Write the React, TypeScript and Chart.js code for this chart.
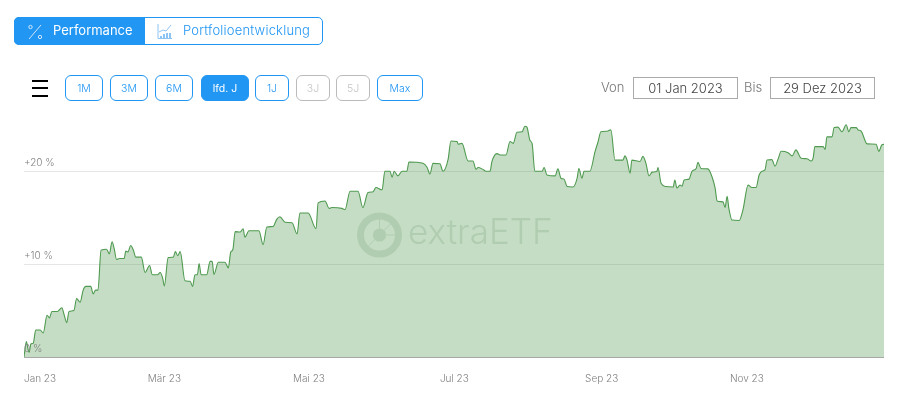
import React, { useEffect, useRef } from "react";
import { Chart, registerables } from "chart.js";

Chart.register(...registerables);

const sessions = [
  0, 0.7, 1.1, 1.5, 2.0, 2.7, 3.4, 4.7, 5.6, 6.7, 7.4, 8.1, 9.7, 11.0, 11.7, 12.4, 13.1, 14.5, 15.3, 16.3, 17.2, 18.0, 19.4, 20.1, 20.8, 21.5, 22.4, 24.0, 24.8, 25.6, 26.2, 26.9, 27.7, 29.1, 29.6, 30.2, 31.0, 31.8, 32.5, 34.1, 35.2, 36.5, 37.3, 38.8, 39.6, 40.3, 40.8, 41.9, 43.4, 44.0, 44.7, 45.4, 46.8, 48.3, 49.0, 49.7, 50.4, 50.9, 51.5, 53.1, 54.1, 54.7, 55.2, 56.5, 58.4, 59.4, 60.1, 60.7, 61.4,
  62.8, 63.7, 64.2, 65.4, 68.3, 69.5, 70.6, 72.4, 73.5, 74.4, 75.9, 77.9, 79.4, 80.2, 82.6, 84.9, 85.5, 87.5, 88.7, 89.5, 92.4, 93.3, 94.8, 97.1, 98.5, 100, 101.5, 102.3, 104.1, 104.9, 106.4, 107, 107.6, 108.7, 109.9, 111.3, 111.9, 116, 117.2, 118, 118.9, 120.9, 121.8, 123.3, 124.1, 125.9, 126.2, 127.3, 129.1, 130.5, 131.4, 132, 133.4, 134.3, 135.5, 136, 137.5, 138.4, 140.1, 141.3, 142.2, 143.3, 144.8, 145.6, 146.2, 147.1, 147.7, 148.5, 150.6, 151.2, 152, 154.4, 155.2, 156.1, 157, 157.9, 159.6, 160.8, 161.3, 162.2, 162.8, 164.5, 166, 166.9, 167.7, 169.5, 170.6, 171.8, 174.1, 174.7, 175.3, 176.2, 176.7, 179.1, 179.9, 180.8, 181.7, 182.6, 184, 184.3, 185.2, 186.6, 188.7, 189.2, 189.8, 190.7, 191.3, 191.9, 193.3, 194.2, 195.4, 195.9, 196.8, 198.8, 200, 200.9, 201.5, 203.2, 203.8, 204.4, 204.9, 205.8, 207.9, 209, 210.5, 211.6, 212.8, 213.7, 214.5, 215.4, 216, 217.4, 218.3, 219.2, 220.1, 222.1, 223.3, 224.4, 225.9, 227.6, 228.8, 229.4, 229.9, 232.3, 232.9, 233.4, 234.9, 235.5, 236.6, 237.8, 239, 239.8, 240.4, 241.9, 242.5, 243.3, 245.1, 247.7, 248.5, 249.4, 250,
];

const performance = [
  0, 1.65, 0.95, 0.5, 1.4, 1.5, 2.9, 2.9, 2.6, 4.5, 4.2, 4.9, 4.9, 5.3, 4.5, 3.7, 4.9, 5, 6.3, 5.9, 7.2, 7.6, 7.6, 6.8, 7.2, 7.2, 11.5, 11.6, 11.1, 12.4, 11.7, 10.5, 10.6, 10.6, 11.4, 11.3, 12, 11.5, 10.75, 10.75, 9.1, 9.85, 8.85, 8.85, 9.1, 8.5, 7.65, 10.7, 10.75, 11.35, 10.9, 11.35, 8.2, 8.15, 7.6, 8.85, 8.85, 10.05, 8.85, 8.85, 10.3, 10.3, 8.9, 10.2, 10.2, 9.6, 11.3, 11.55, 13.5,
  13.45, 13.8, 12.9, 13.6, 13.6, 12.1, 14, 14.05, 14.85, 15.1, 14.5, 14.45, 13.25, 15.5, 15.5, 13.8, 16.6, 16.8, 16, 16.1, 16, 15.85, 17.85, 17.85, 16.1, 17.7, 17.8, 18.25, 18, 20, 20, 19.35, 20, 19.5, 20, 20, 21, 20.85, 20.4, 19.7, 20.85, 20.8, 20, 21.3, 23.25, 23.2, 22.9, 23, 21.1, 21.1, 20.2, 20.4, 20.2, 20, 20, 21, 21.9, 21.75, 21.75, 23.2, 23, 24.2, 24.25, 24.85, 24.75, 23.3, 23, 20, 20, 20.4, 19.6, 19.5, 20.25, 19.25, 19.15, 18.35, 18.3, 19.25, 20.3, 19.25, 20, 20, 22.1, 23.2, 24.25, 24.3, 24.45, 21.2, 21.2, 21.65, 21.2, 19.8, 21.2, 21.05, 21.6, 20.85, 19.5, 19.9, 20, 20.4, 18.7, 18.35, 18.3, 19.05, 18.2, 18.5, 18.4, 19.05, 19.15, 20, 20.3, 20.95, 20.3, 20.25, 19.4, 18.2, 16.8, 16.7, 16.1, 17.3, 16, 14.75, 14.7, 15.85, 18.5, 18.25, 18.25, 19.6, 20, 20.15, 21.2, 21.25, 20.55, 21.3, 22.15, 22, 21.65, 22.3, 21.4, 21.35, 21.1, 21.4, 22.65, 22.65, 22.35, 23.7, 23.7, 24.7, 24.75, 24.25, 25, 24.25, 24.7, 24.7, 24.45, 24.35, 22.95, 22.9, 22.15, 22.85, 22.9,
];

const xTickSessions = [0, 36, 78.2, 120.9, 163.1, 205.2];
const xTickLabels = ["Jan 23", "Mär 23", "Mai 23", "Jul 23", "Sep 23", "Nov 23"];
const yTickValues = [0, 10, 20];
const yTickLabels = ["0 %", "+10 %", "+20 %"];
const periods = ["1M", "3M", "6M", "lfd. J", "1J", "3J", "5J", "Max"];
const periodBoxes = [[65, 38], [110, 38], [155, 38], [201, 48], [255, 34], [296, 34], [336, 34], [377, 46]];
const FONT = "Inter, 'Noto Sans', sans-serif";
const BLUE = "#2196f3";

const watermark = {
  id: "watermark",
  afterDatasetsDraw(chart: any) {
    const c = chart.ctx;
    const col = "rgb(177,205,177)";
    c.save();
    c.strokeStyle = col;
    c.fillStyle = col;
    c.lineWidth = 7;
    c.beginPath();
    c.arc(379.5, 235, 19, 0, Math.PI * 2);
    c.stroke();
    c.beginPath();
    c.arc(379.5, 235, 6.6, 0, Math.PI * 2);
    c.fill();
    c.lineWidth = 1;
    [[0, -1], [0.7, -0.7], [1, 0], [-0.7, 0.7]].forEach(([dx, dy]) => {
      c.beginPath();
      c.moveTo(379.5 + dx * 6, 235 + dy * 6);
      c.lineTo(379.5 + dx * 17, 235 + dy * 17);
      c.stroke();
    });
    c.font = "300 35px " + FONT;
    c.textBaseline = "alphabetic";
    c.textAlign = "left";
    c.fillText("extraETF", 408, 244);
    c.restore();
  },
};

function PercentIcon() {
  return (
    <svg width="17" height="17" viewBox="0 0 17 17" style={{ position: "absolute", left: 27, top: 23 }}>
      <path d="M2 16 L14 2" stroke="#cfe6fb" strokeWidth="1" fill="none" />
      <circle cx="3.5" cy="4" r="1.7" stroke="#cfe6fb" fill="none" />
      <circle cx="13" cy="14" r="1.7" stroke="#cfe6fb" fill="none" />
    </svg>
  );
}

function GrowthIcon() {
  return (
    <svg width="16" height="16" viewBox="0 0 16 16" style={{ position: "absolute", left: 157, top: 24 }}>
      <path d="M1 0 V14.5 H15" stroke="#8cc4f5" strokeWidth="1" fill="none" />
      <path d="M2 8 L6 6 L9 7 L14 1" stroke="#8cc4f5" strokeWidth="1" fill="none" />
      <path d="M4 14 V12 M7 14 V10 M10 14 V9 M13 14 V9" stroke="#8cc4f5" strokeWidth="2" fill="none" />
    </svg>
  );
}

export default function App() {
  const ref = useRef<HTMLCanvasElement>(null);
  useEffect(() => {
    document.body.style.margin = "0";
    const chart = new Chart(ref.current as HTMLCanvasElement, {
      type: "line",
      data: {
        datasets: [
          {
            data: sessions.map((s, i) => ({ x: s, y: performance[i] })),
            borderColor: "#4f9a50",
            borderWidth: 1.1,
            backgroundColor: "rgba(76,153,76,0.33)",
            fill: "origin",
            pointRadius: 0,
            cubicInterpolationMode: "monotone",
          },
        ],
      },
      options: {
        animation: false,
        responsive: false,
        events: [],
        layout: { padding: { left: 24, right: 17, top: 115.5, bottom: 0 } },
        plugins: { legend: { display: false }, tooltip: { enabled: false } },
        scales: {
          x: {
            type: "linear",
            min: 0,
            max: 250,
            afterBuildTicks: (s: any) => {
              s.ticks = xTickSessions.map((v) => ({ value: v }));
            },
            afterFit: (s: any) => {
              s.height = 47;
              s.paddingLeft = 0;
              s.paddingRight = 0;
            },
            grid: { display: false },
            border: { display: false },
            ticks: {
              autoSkip: false,
              maxRotation: 0,
              align: "start",
              padding: 8,
              color: "#808080",
              font: { family: FONT, size: 10, weight: "300" },
              callback: (v: any) => xTickLabels[xTickSessions.indexOf(Number(v))] ?? "",
            },
          },
          y: {
            min: 0,
            max: 26,
            afterBuildTicks: (s: any) => {
              s.ticks = yTickValues.map((v) => ({ value: v }));
            },
            afterFit: (s: any) => {
              s.width = 0;
            },
            grid: {
              color: (c: any) => (c.tick && c.tick.value === 0 ? "#a8a8a8" : "#e6e6e6"),
              drawTicks: false,
            },
            border: { display: false },
            ticks: {
              mirror: true,
              padding: 0,
              labelOffset: -8,
              z: 1,
              color: "#808080",
              font: { family: FONT, size: 10, weight: "300" },
              callback: (v: any) => yTickLabels[yTickValues.indexOf(Number(v))] ?? "",
            },
          },
        },
      } as any,
      plugins: [watermark],
    } as any);
    return () => chart.destroy();
  }, []);

  const abs = (l: number, t: number, w: number, h: number): React.CSSProperties => ({
    position: "absolute",
    left: l,
    top: t,
    width: w,
    height: h,
    boxSizing: "border-box",
    display: "flex",
    alignItems: "center",
    justifyContent: "center",
  });

  return (
    <div style={{ position: "relative", width: 901, height: 404, overflow: "hidden", fontFamily: FONT, fontWeight: 300 }}>
      <canvas ref={ref} width={901} height={404} style={{ position: "absolute", left: 0, top: 0, display: "block" }} />

      <div style={{ ...abs(14, 17, 309, 28), border: `1px solid ${BLUE}`, borderRadius: 5 }} />
      <div style={{ ...abs(14, 17, 131, 28), background: BLUE, borderRadius: "5px 0 0 5px" }} />
      <PercentIcon />
      <GrowthIcon />
      <div style={{ position: "absolute", left: 53, top: 17, height: 28, lineHeight: "27px", fontSize: 13, color: "#fff", fontWeight: 400 }}>Performance</div>
      <div style={{ position: "absolute", left: 183, top: 17, height: 28, lineHeight: "27px", fontSize: 13, letterSpacing: 0.2, color: BLUE }}>Portfolioentwicklung</div>

      <div style={{ position: "absolute", left: 32, top: 80, width: 16, height: 2, background: "#000" }} />
      <div style={{ position: "absolute", left: 32, top: 87, width: 16, height: 2, background: "#000" }} />
      <div style={{ position: "absolute", left: 32, top: 95, width: 16, height: 2, background: "#000" }} />

      {periods.map((p, i) => {
        const active = p === "lfd. J";
        const off = p === "3J" || p === "5J";
        return (
          <div
            key={p}
            style={{
              ...abs(periodBoxes[i][0], 75, periodBoxes[i][1], 26),
              border: `1px solid ${off ? "#bbbbbb" : BLUE}`,
              borderRadius: 6,
              background: active ? BLUE : "transparent",
              color: active ? "#fff" : off ? "#c4c4c4" : BLUE,
              fontSize: 10.5,
              fontWeight: active ? 400 : 300,
            }}
          >
            {p}
          </div>
        );
      })}

      <div style={{ position: "absolute", left: 601, top: 79, lineHeight: "17px", fontSize: 13, color: "#777" }}>Von</div>
      <div style={{ ...abs(633, 77, 105, 22), border: "1px solid #aaaaaa", fontSize: 13, color: "#444" }}>01 Jan 2023</div>
      <div style={{ position: "absolute", left: 744, top: 79, lineHeight: "17px", fontSize: 13, color: "#777" }}>Bis</div>
      <div style={{ ...abs(770, 77, 105, 22), border: "1px solid #aaaaaa", fontSize: 13, color: "#444" }}>29 Dez 2023</div>
    </div>
  );
}
